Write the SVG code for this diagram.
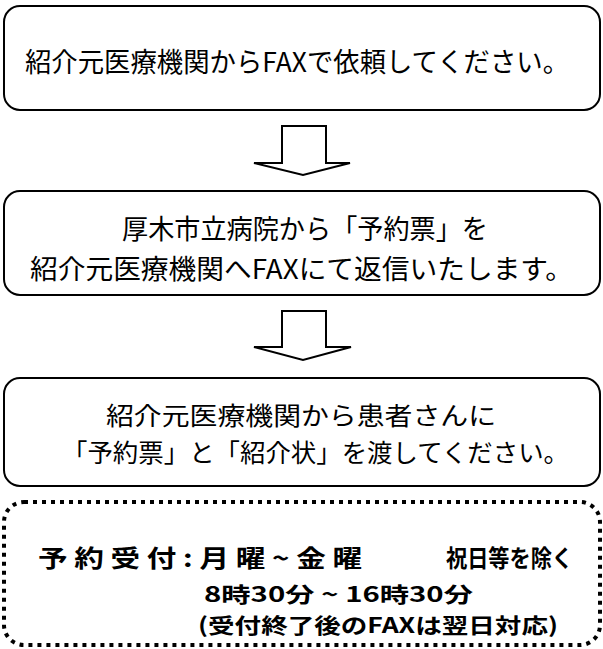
<svg xmlns="http://www.w3.org/2000/svg" width="603" height="649" viewBox="0 0 603 649">
<style>
.box{fill:#fff;stroke:#000;stroke-width:2}
.dot{fill:none;stroke:#000;stroke-width:4;stroke-dasharray:4 5}
.arr{fill:#fff;stroke:#000;stroke-width:2;stroke-linejoin:miter}
text{font-family:"Noto Sans CJK JP","Noto Sans",sans-serif;fill:#000;font-size:27px}
.m{font-size:25px}
.b{font-weight:bold;font-size:24px}
.s{font-weight:bold;font-size:21px}
</style>
<rect width="603" height="649" fill="#fff"/>
<g id="connectors">
<polygon class="arr" points="282,126 326,126 326,163 350,163 303,175 254,163 282,163"/>
<polygon class="arr" points="282,311 326,311 326,347 351,347 303,360 254,347 282,347"/>
</g>
<g id="node1">
<rect class="box" x="4" y="6" width="596" height="104" rx="16"/>
<text x="25" y="72" textLength="544" lengthAdjust="spacingAndGlyphs">紹介元医療機関からFAXで依頼してください。</text>
</g>
<g id="node2">
<rect class="box" x="4" y="191" width="596" height="104" rx="16"/>
<text x="122" y="239" textLength="366" lengthAdjust="spacingAndGlyphs">厚木市立病院から「予約票」を</text>
<text x="30" y="279" textLength="543" lengthAdjust="spacingAndGlyphs">紹介元医療機関へFAXにて返信いたします。</text>
</g>
<g id="node3">
<rect class="box" x="4" y="378" width="596" height="108" rx="16"/>
<text class="m" x="106" y="425" textLength="390" lengthAdjust="spacingAndGlyphs">紹介元医療機関から患者さんに</text>
<text class="m" x="62" y="462" textLength="507" lengthAdjust="spacingAndGlyphs">「予約票」と「紹介状」を渡してください。</text>
</g>
<g id="node4">
<rect class="dot" x="4" y="502" width="596" height="143" rx="20"/>
<text class="b" x="38" y="567" textLength="324" lengthAdjust="spacingAndGlyphs">予 約 受 付 : 月 曜 ~ 金 曜</text>
<text class="b" x="446" y="567" textLength="127" lengthAdjust="spacingAndGlyphs">祝日等を除く</text>
<text class="s" x="204" y="602" textLength="269" lengthAdjust="spacingAndGlyphs">8時30分 ~ 16時30分</text>
<text class="s" x="198" y="633" textLength="360" lengthAdjust="spacingAndGlyphs">(受付終了後のFAXは翌日対応)</text>
</g>
</svg>
